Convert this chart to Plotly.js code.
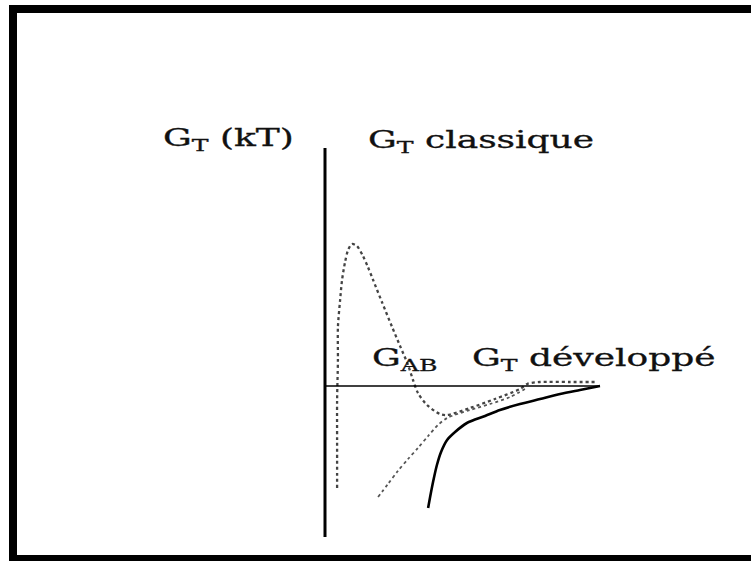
<!DOCTYPE html>
<html>
<head>
<meta charset="utf-8">
<script src="https://cdn.plot.ly/plotly-3.0.1.min.js"></script>
<style>
  html, body { margin: 0; padding: 0; background: #ffffff; }
  #chart { width: 751px; height: 561px; }
</style>
</head>
<body>
<div id="chart"></div>
<script>
// Energy profiles versus separation distance (arbitrary distance units, energy in kT)

// G_T classique : DLVO total energy (dotted)
const distClassique = [0.44, 0.44, 0.44, 0.47, 0.47, 0.55, 0.62, 0.73, 0.84, 0.98, 1.16, 1.38, 1.56, 1.75,
  2.07, 2.44, 2.73, 3.02, 3.20, 3.38, 3.71, 4.18, 4.44, 5.27, 6.18, 7.09, 7.35, 7.82, 8.91, 9.89];
const gClassique = [-10.2, -5.4, -1.4, 2.6, 5.9, 8.6, 10.6, 12.4, 13.6, 14.2, 14.0, 13.0, 11.9, 10.6,
  8.4, 5.9, 4.0, 2.1, 0.6, -0.7, -1.9, -2.8, -2.9, -2.2, -1.3, -0.3, 0.2, 0.4, 0.4, 0.4];

// G_AB : acid-base (short-range) contribution (dotted, lighter)
const distAB = [1.93, 2.29, 2.65, 3.02, 3.38, 3.75, 4.11, 4.44, 5.27, 6.00, 6.73, 7.27];
const gAB = [-11.1, -9.8, -8.5, -7.3, -6.2, -5.0, -3.9, -3.2, -2.4, -1.8, -1.1, -0.3];

// G_T développé : extended total energy (solid)
const distDeveloppe = [3.75, 3.85, 3.96, 4.07, 4.22, 4.44, 4.73, 5.16, 5.82, 6.36, 7.09, 7.82, 8.55, 9.27, 10.0];
const gDeveloppe = [-12.2, -10.7, -9.2, -7.9, -6.6, -5.4, -4.6, -3.7, -3.0, -2.4, -1.8, -1.3, -0.8, -0.4, 0.0];

// Text labels
const labelAxis = 'G<sub>T</sub> (kT)';
const labelClassique = 'G<sub>T</sub> classique';
const labelAB = 'G<sub>AB</sub>';
const labelDeveloppe = 'G<sub>T</sub> développé';

const serif = 'DejaVu Serif, Liberation Serif, serif';
const labelFont = { family: serif, size: 24, color: '#111' };
const labelStretch = 1.5;

const traces = [
  {
    x: distClassique, y: gClassique, name: 'G_T classique',
    mode: 'lines', line: { color: '#444444', width: 2.3, dash: 'dot', shape: 'spline', smoothing: 0.8 }
  },
  {
    x: distAB, y: gAB, name: 'G_AB',
    mode: 'lines', line: { color: '#555555', width: 1.8, dash: 'dot', shape: 'spline', smoothing: 0.8 }
  },
  {
    x: distDeveloppe, y: gDeveloppe, name: 'G_T développé',
    mode: 'lines', line: { color: '#000000', width: 2.6, shape: 'spline', smoothing: 0.8 }
  }
];

const W = 751, H = 561;
const px = v => v / W;
const py = v => 1 - v / H;

const layout = {
  width: W, height: H,
  margin: { l: 0, r: 0, t: 0, b: 0, pad: 0 },
  paper_bgcolor: '#ffffff', plot_bgcolor: '#ffffff',
  showlegend: false,
  xaxis: { range: [-11.818, 15.491], visible: false, fixedrange: true },
  yaxis: { range: [-17.5, 38.6], visible: false, fixedrange: true },
  shapes: [
    // energy axis (vertical) and distance axis (horizontal)
    { type: 'line', xref: 'x', yref: 'y', x0: 0, x1: 0, y0: -15.1, y1: 23.8, line: { color: '#000', width: 3 } },
    { type: 'line', xref: 'x', yref: 'y', x0: 0, x1: 10, y0: 0, y1: 0, line: { color: '#000', width: 1.6 } },
    // picture frame
    { type: 'rect', xref: 'paper', yref: 'paper', x0: px(9), x1: px(751), y0: py(5), y1: py(13), fillcolor: '#000', line: { width: 0 } },
    { type: 'rect', xref: 'paper', yref: 'paper', x0: px(9), x1: px(17), y0: py(5), y1: py(561), fillcolor: '#000', line: { width: 0 } },
    { type: 'rect', xref: 'paper', yref: 'paper', x0: px(9), x1: px(751), y0: py(555), y1: py(561), fillcolor: '#000', line: { width: 0 } }
  ],
  annotations: [
    { text: labelAxis, xref: 'paper', yref: 'paper', x: px(161), y: py(139), xanchor: 'left', yanchor: 'middle',
      showarrow: false, font: labelFont },
    { text: labelClassique, xref: 'paper', yref: 'paper', x: px(366), y: py(141), xanchor: 'left', yanchor: 'middle',
      showarrow: false, font: labelFont },
    { text: labelAB, xref: 'paper', yref: 'paper', x: px(370), y: py(359), xanchor: 'left', yanchor: 'middle',
      showarrow: false, font: labelFont },
    { text: labelDeveloppe, xref: 'paper', yref: 'paper', x: px(470), y: py(359), xanchor: 'left', yanchor: 'middle',
      showarrow: false, font: labelFont }
  ]
};

Plotly.newPlot('chart', traces, layout, { staticPlot: true, displayModeBar: false }).then(gd => {
  // widen the serif labels around their left edge and give them a slightly heavier stroke
  gd.querySelectorAll('.annotation-text').forEach(el => {
    const box = el.getBBox();
    const x0 = box.x;
    el.setAttribute('transform', `translate(${x0} 0) scale(${labelStretch} 1) translate(${-x0} 0)`);
    el.style.stroke = '#111';
    el.style.strokeWidth = '0.3px';
  });
});
</script>
</body>
</html>
